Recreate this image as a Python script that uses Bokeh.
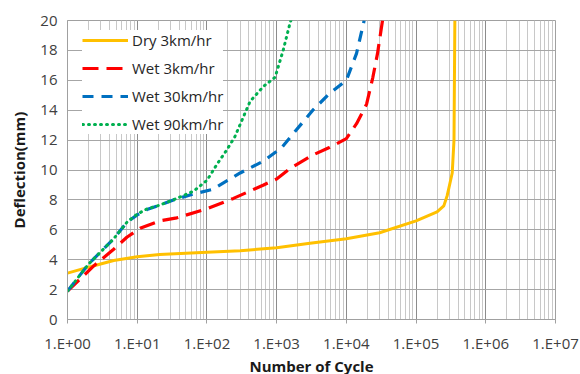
from bokeh.plotting import figure
from bokeh.models import Range1d, LogTicker, FixedTicker, CustomJSTickFormatter, Legend, LegendItem
from bokeh.embed import file_html
from bokeh.resources import INLINE

# Deflection (mm) against number of load cycles, per test condition
dry3_cycles = [1, 2.4, 4.6, 10, 21, 100, 300, 1000, 3000, 1e4, 3e4, 1e5, 2e5, 2.5e5, 2.8e5,
               3.3e5, 3.5e5, 3.6e5]
dry3_defl = [3.1, 3.6, 3.95, 4.2, 4.35, 4.5, 4.6, 4.8, 5.1, 5.4, 5.8, 6.6, 7.2, 7.6, 8.3,
             9.8, 12.0, 20.0]

wet3_cycles = [1, 2.4, 4.6, 7.1, 11, 21, 37, 100, 240, 650, 1000, 1550, 3300, 5700, 1e4,
               1.4e4, 1.95e4, 2.4e4, 2.8e4, 3.3e4]
wet3_defl = [1.9, 3.6, 4.7, 5.5, 6.1, 6.6, 6.8, 7.4, 8.1, 9.0, 9.4, 10.1, 11.0, 11.5, 12.1,
             13.1, 14.4, 16.2, 17.8, 20.0]

wet30_cycles = [1, 2, 4.6, 7.1, 10, 13.8, 19.5, 33, 65, 120, 300, 650, 1180, 3300, 5700, 1e4,
                1.4e4, 1.7e4, 1.8e4]
wet30_defl = [1.9, 3.7, 5.4, 6.5, 7.0, 7.35, 7.6, 8.0, 8.4, 8.7, 9.8, 10.6, 11.5, 14.0, 15.1,
              16.0, 17.8, 19.5, 20.0]

wet90_cycles = [1, 2, 4.6, 7.1, 10, 13.8, 19.5, 33, 65, 100, 140, 190, 250, 417, 650, 950,
                1240, 1550, 1600]
wet90_defl = [1.9, 3.7, 5.4, 6.5, 7.05, 7.4, 7.6, 8.0, 8.6, 9.3, 10.4, 11.3, 12.2, 14.6, 15.6,
              16.2, 18.0, 19.8, 20.0]

y_ticks = [0, 2, 4, 6, 8, 10, 12, 14, 16, 18, 20]

p = figure(frame_width=488, frame_height=299, x_axis_type="log", output_backend="svg",
           toolbar_location=None, x_range=Range1d(1, 1e7), y_range=Range1d(0, 20),
           min_border_left=67, min_border_right=25, min_border_top=20, min_border_bottom=55)
p.outline_line_color = "#a0a0a0"
p.background_fill_color = "white"
p.border_fill_color = "white"

# Axes and grid
p.xaxis.ticker = LogTicker(num_minor_ticks=10)
p.xaxis.formatter = CustomJSTickFormatter(code="""
    const e = Math.round(Math.log10(tick));
    return "1.E+" + String(e).padStart(2, "0");
""")
p.yaxis.ticker = FixedTicker(ticks=y_ticks)
for ax in (p.xaxis, p.yaxis):
    ax.axis_line_color = "#a0a0a0"
    ax.major_label_text_font = "Open Sans"
    ax.major_label_text_font_size = "15px"
    ax.major_label_text_color = "#404040"
    ax.axis_label_text_font = "Open Sans"
    ax.axis_label_text_font_style = "bold"
    ax.axis_label_text_font_size = "15px"
    ax.axis_label_text_color = "#1a1a1a"
    ax.minor_tick_line_color = None
p.xaxis.major_tick_line_color = "#a0a0a0"
p.xaxis.major_tick_out = 4
p.xaxis.major_tick_in = 0
p.yaxis.major_tick_line_color = None
p.yaxis.major_tick_out = 0
p.yaxis.major_tick_in = 0
p.xaxis.axis_label = "Number of Cycle"
p.yaxis.axis_label = "Deflection(mm)"
p.xaxis.major_label_standoff = 9
p.xaxis.axis_label_standoff = 0
p.yaxis.major_label_standoff = 10
p.yaxis.axis_label_standoff = 8

p.xgrid.grid_line_color = "#8c8c8c"
p.xgrid.minor_grid_line_color = "#c8c8c8"
p.ygrid.grid_line_color = "#a6a6a6"

r_dry = p.line(dry3_cycles, dry3_defl, line_color="#ffc000", line_width=3)
r_w3 = p.line(wet3_cycles, wet3_defl, line_color="#ff0000", line_width=3.2, line_dash="16 8")
r_w30 = p.line(wet30_cycles, wet30_defl, line_color="#0070c0", line_width=3.2, line_dash="11 8")
r_w90 = p.line(wet90_cycles, wet90_defl, line_color="#00b050", line_width=3, line_dash="1 5",
               line_cap="round")

legend = Legend(items=[
    LegendItem(label="Dry 3km/hr", renderers=[r_dry]),
    LegendItem(label="Wet 3km/hr", renderers=[r_w3]),
    LegendItem(label="Wet 30km/hr", renderers=[r_w30]),
    LegendItem(label="Wet 90km/hr", renderers=[r_w90]),
], location=(15, 185))
legend.label_text_font = "Open Sans"
legend.label_text_font_size = "15px"
legend.label_text_color = "#262626"
legend.glyph_width = 46
legend.glyph_height = 20
legend.spacing = 8
legend.padding = 10
legend.margin = 0
legend.label_standoff = 4
legend.border_line_color = None
legend.background_fill_color = "white"
legend.background_fill_alpha = 1.0
p.add_layout(legend)

open("out.html", "w").write(file_html(p, INLINE))
